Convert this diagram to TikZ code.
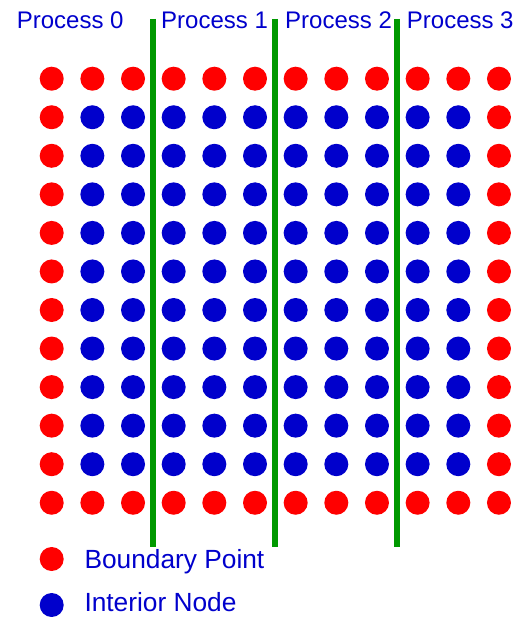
\documentclass[tikz,border=0pt]{standalone}
\usepackage{fontspec}
\setmainfont{Liberation Sans}
\usepackage{tikz}
\usetikzlibrary{positioning}
\definecolor{ptred}{RGB}{255,0,0}
\definecolor{ptblue}{RGB}{0,0,204}
\definecolor{ptgreen}{RGB}{0,153,0}

\begin{document}
\begin{tikzpicture}[
          x=1pt, y=-1pt,
          gridpt/.style={
            circle, inner sep=0pt, minimum size=24pt
          },
          proc/.style={
            anchor=base west, inner sep=0pt, text=ptblue,
            font=\fontsize{24}{28}\selectfont
          },
          legend/.style={
            anchor=base west, inner sep=0pt, text=ptblue,
            font=\fontsize{26.3}{30}\selectfont
          },
          divider/.style={draw=ptgreen, line width=6pt}
        ]
          \useasboundingbox (0,0) rectangle (514,617);

          % 12 x 12 grid, outer ring is the boundary
          \foreach \c in {1,...,12}
            \foreach \r in {1,...,12} {
              \pgfmathtruncatemacro\edge{or(or(\c==1,\c==12),or(\r==1,\r==12))}
              \ifnum\edge=1 \def\dotcol{ptred}\else\def\dotcol{ptblue}\fi
              \node[gridpt, fill=\dotcol] (p-\r-\c)
                at ({51.7+(\c-1)*40.66},{78.7+(\r-1)*38.55}) {};
            }

          % process split
          \draw[divider] (153,19) -- (153,547);
          \draw[divider] (275,19) -- (275,547);
          \draw[divider] (397,19) -- (397,547);

          \node[proc] (proc0) at (16.7,28.3) {Process 0};
          \node[proc] (proc1) at (161,28.3)  {Process 1};
          \node[proc] (proc2) at (285,28.3)  {Process 2};
          \node[proc] (proc3) at (406.7,28.3) {Process 3};

          \node[gridpt, fill=ptred]  (keyb) at (51.7,559) {};
          \node[gridpt, fill=ptblue] (keyi) at (51.7,605) {};
          \node[legend] (keybtxt) at (84.3,568.5) {Boundary Point};
          \node[legend] (keyitxt) at (84.3,611) {Interior Node};
        \end{tikzpicture}
\end{document}
